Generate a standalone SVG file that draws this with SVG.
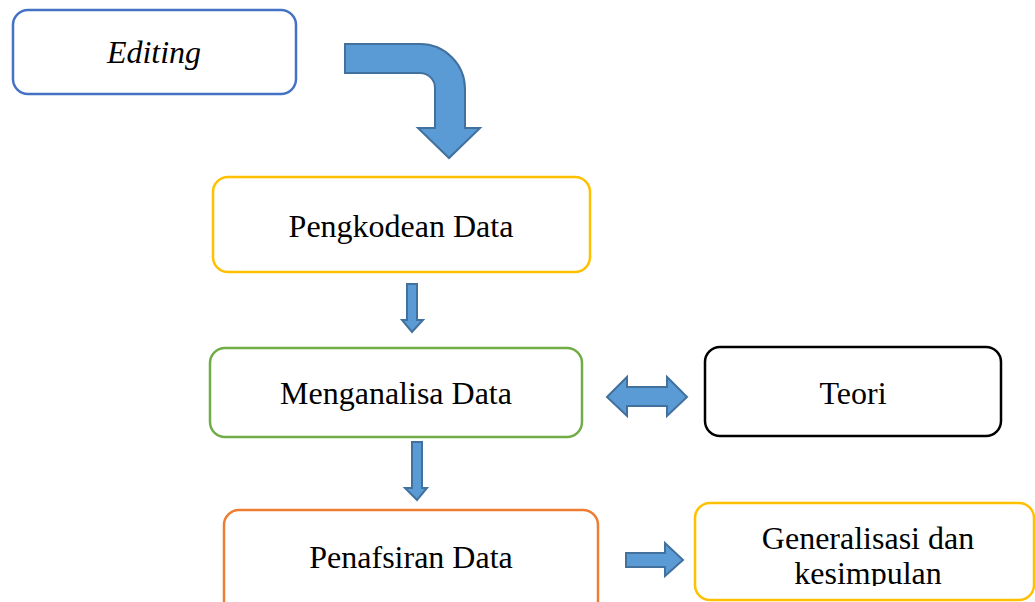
<svg xmlns="http://www.w3.org/2000/svg" width="1035" height="602" viewBox="0 0 1035 602">
  <style>
    .box { fill: #FFFFFF; stroke-width: 2.5; }
    .lbl { font-family: "Liberation Serif", "Times New Roman", serif; font-size: 32px; fill: #000000; text-anchor: middle; }
    .arrow { fill: #5B9BD5; stroke: #41719C; stroke-width: 2; stroke-linejoin: miter; }
  </style>
  <defs>
    <clipPath id="clip-gen">
      <rect x="697" y="505" width="336" height="81"/>
    </clipPath>
  </defs>
  <rect width="1035" height="602" fill="#FFFFFF"/>

  <g id="connectors">
    <!-- bent arrow from Editing down to Pengkodean Data -->
    <path class="arrow" d="M345,44 H420 A45,45 0 0 1 465,89 V128 H480 L449,158 L418,128 H435 V88 A15,15 0 0 0 420,73 H345 Z"/>
    <!-- Pengkodean Data to Menganalisa Data -->
    <path class="arrow" d="M407,284 H417 V320 H423 L412,332 L402,320 H407 Z"/>
    <!-- Menganalisa Data to Penafsiran Data -->
    <path class="arrow" d="M412,442 H422 V488 H427 L417,500 L405,488 H412 Z"/>
    <!-- Menganalisa Data <-> Teori -->
    <path class="arrow" d="M607,397 L627,377 V387 H667 V377 L687,397 L667,416 V406 H627 V416 Z"/>
    <!-- Penafsiran Data to Generalisasi -->
    <path class="arrow" d="M626,553 H665 V543 L683,560 L665,576 V567 H626 Z"/>
  </g>

  <g id="node-editing">
    <rect class="box" x="13" y="10" width="283" height="84" rx="15" stroke="#4472C4"/>
    <text class="lbl" x="154" y="63" font-style="italic">Editing</text>
  </g>

  <g id="node-pengkodean">
    <rect class="box" x="213" y="177" width="377" height="95" rx="15" stroke="#FFC000"/>
    <text class="lbl" x="401" y="237">Pengkodean Data</text>
  </g>

  <g id="node-menganalisa">
    <rect class="box" x="210" y="348" width="372" height="89" rx="15" stroke="#70AD47"/>
    <text class="lbl" x="396" y="404">Menganalisa Data</text>
  </g>

  <g id="node-teori">
    <rect class="box" x="705" y="347" width="296" height="89" rx="15" stroke="#000000"/>
    <text class="lbl" x="853" y="404">Teori</text>
  </g>

  <g id="node-penafsiran">
    <rect class="box" x="224" y="510" width="374" height="110" rx="15" stroke="#ED7D31"/>
    <text class="lbl" x="411" y="568">Penafsiran Data</text>
  </g>

  <g id="node-generalisasi">
    <rect class="box" x="695" y="503" width="339" height="97" rx="15" stroke="#FFC000"/>
    <g clip-path="url(#clip-gen)">
      <text class="lbl" x="868" y="549">Generalisasi dan</text>
      <text class="lbl" x="868" y="584">kesimpulan</text>
    </g>
  </g>
</svg>
